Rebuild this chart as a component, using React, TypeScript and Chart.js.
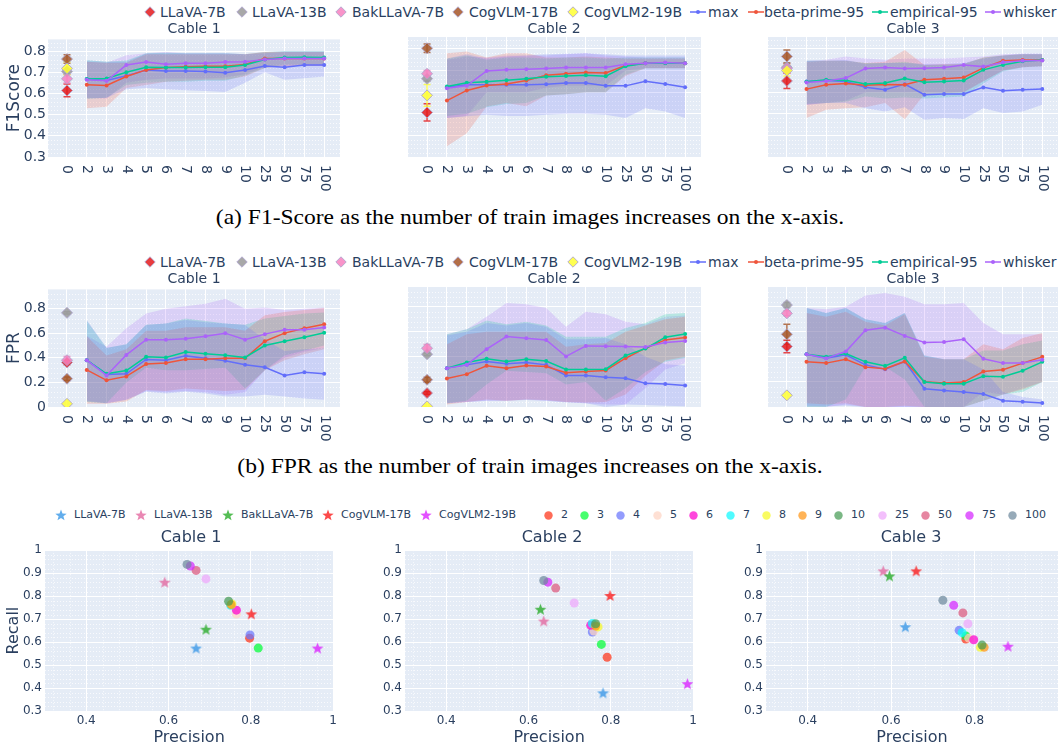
import React, { useEffect, useRef } from 'react';
import { Chart, registerables } from 'chart.js';

Chart.register(...registerables);

const FONT = "'DejaVu Sans', 'Noto Sans', sans-serif";
const SERIF = "'Liberation Serif', 'DejaVu Serif', serif";
const INK = '#2a3f5f';

// ---------- categories ----------
const X_LABELS = ['0', '2', '3', '4', '5', '6', '7', '8', '9', '10', '25', '50', '75', '100'];
const TRAIN_SIZES = ['2', '3', '4', '5', '6', '7', '8', '9', '10', '25', '50', '75', '100'];
const MODELS = ['LLaVA-7B', 'LLaVA-13B', 'BakLLaVA-7B', 'CogVLM-17B', 'CogVLM2-19B'];
const METHODS = ['max', 'beta-prime-95', 'empirical-95', 'whisker'];
const CABLES = ['Cable 1', 'Cable 2', 'Cable 3'];

const METHOD_COLORS = ['#636EFA', '#EF553B', '#00CC96', '#AB63FA'];
const MODEL_COLORS = ['#E41A1C', '#999999', '#F781BF', '#A65628', '#FFFF33'];
const STAR_COLORS = ['#2E91E5', '#E15F99', '#1CA71C', '#FB0D0D', '#DA16FF'];
const TRAIN_COLORS = ['#FD3216', '#00FE35', '#6A76FC', '#FED4C4', '#FE00CE', '#0DF9FF', '#F6F926', '#FF9616', '#479B55', '#EEA6FB', '#DC587D', '#D626FF', '#6E899C'];

const F1_TICKS = [0.3, 0.4, 0.5, 0.6, 0.7, 0.8];
const FPR_TICKS = [0, 0.2, 0.4, 0.6, 0.8];
const PR_X_TICKS = [0.4, 0.6, 0.8, 1];
const PR_Y_TICKS = [0.3, 0.4, 0.5, 0.6, 0.7, 0.8, 0.9, 1];

// ---------- (a) F1, Cable 1 ----------
const F1_C1_MAX = [0.668, 0.661, 0.683, 0.711, 0.706, 0.706, 0.703, 0.698, 0.711, 0.729, 0.723, 0.734, 0.734];
const F1_C1_MAX_LO = [0.575, 0.58, 0.62, 0.626, 0.62, 0.615, 0.612, 0.607, 0.65, 0.7, 0.665, 0.672, 0.68];
const F1_C1_MAX_HI = [0.757, 0.75, 0.75, 0.788, 0.79, 0.79, 0.79, 0.79, 0.785, 0.79, 0.795, 0.795, 0.795];
const F1_C1_BETA = [0.641, 0.638, 0.68, 0.711, 0.722, 0.726, 0.728, 0.728, 0.737, 0.765, 0.765, 0.765, 0.765];
const F1_C1_BETA_LO = [0.53, 0.537, 0.626, 0.64, 0.655, 0.66, 0.665, 0.665, 0.68, 0.72, 0.73, 0.73, 0.73];
const F1_C1_BETA_HI = [0.75, 0.745, 0.745, 0.785, 0.785, 0.785, 0.785, 0.785, 0.785, 0.795, 0.795, 0.795, 0.795];
const F1_C1_EMP = [0.668, 0.671, 0.7, 0.723, 0.722, 0.722, 0.723, 0.723, 0.734, 0.76, 0.769, 0.771, 0.769];
const F1_C1_EMP_LO = [0.575, 0.58, 0.64, 0.65, 0.655, 0.655, 0.66, 0.66, 0.685, 0.72, 0.735, 0.735, 0.735];
const F1_C1_EMP_HI = [0.757, 0.75, 0.755, 0.79, 0.792, 0.79, 0.79, 0.79, 0.785, 0.795, 0.8, 0.8, 0.8];
const F1_C1_WHISK = [0.665, 0.66, 0.734, 0.748, 0.738, 0.743, 0.743, 0.748, 0.749, 0.76, 0.765, 0.765, 0.765];
const F1_C1_WHISK_LO = [0.58, 0.575, 0.65, 0.665, 0.67, 0.67, 0.67, 0.675, 0.69, 0.725, 0.73, 0.73, 0.73];
const F1_C1_WHISK_HI = [0.75, 0.745, 0.78, 0.79, 0.795, 0.79, 0.79, 0.79, 0.785, 0.795, 0.8, 0.8, 0.8];
const F1_C1_MODEL = [0.614, 0.703, 0.669, 0.762, 0.718];
const F1_C1_MODEL_ERR = [0.03, 0.012, 0.02, 0.02, 0.03];

// ---------- (a) F1, Cable 2 ----------
const F1_C2_MAX = [0.623, 0.634, 0.634, 0.634, 0.634, 0.637, 0.642, 0.642, 0.629, 0.629, 0.65, 0.638, 0.623];
const F1_C2_MAX_LO = [0.48, 0.488, 0.495, 0.49, 0.49, 0.495, 0.5, 0.5, 0.495, 0.48, 0.526, 0.51, 0.48];
const F1_C2_MAX_HI = [0.755, 0.775, 0.755, 0.765, 0.77, 0.775, 0.778, 0.78, 0.775, 0.77, 0.77, 0.77, 0.77];
const F1_C2_BETA = [0.561, 0.608, 0.631, 0.638, 0.654, 0.678, 0.685, 0.691, 0.689, 0.723, 0.734, 0.735, 0.734];
const F1_C2_BETA_LO = [0.35, 0.41, 0.534, 0.55, 0.535, 0.585, 0.59, 0.6, 0.6, 0.675, 0.71, 0.71, 0.71];
const F1_C2_BETA_HI = [0.78, 0.788, 0.76, 0.78, 0.78, 0.76, 0.76, 0.765, 0.76, 0.755, 0.755, 0.755, 0.755];
const F1_C2_EMP = [0.626, 0.643, 0.648, 0.655, 0.662, 0.671, 0.675, 0.678, 0.674, 0.72, 0.734, 0.734, 0.734];
const F1_C2_EMP_LO = [0.49, 0.5, 0.53, 0.545, 0.55, 0.585, 0.59, 0.6, 0.6, 0.68, 0.71, 0.71, 0.71];
const F1_C2_EMP_HI = [0.755, 0.77, 0.75, 0.76, 0.76, 0.755, 0.76, 0.76, 0.755, 0.76, 0.76, 0.76, 0.76];
const F1_C2_WHISK = [0.618, 0.629, 0.698, 0.703, 0.706, 0.709, 0.714, 0.714, 0.714, 0.729, 0.734, 0.737, 0.734];
const F1_C2_WHISK_LO = [0.48, 0.49, 0.6, 0.6, 0.6, 0.62, 0.63, 0.63, 0.63, 0.7, 0.71, 0.71, 0.71];
const F1_C2_WHISK_HI = [0.75, 0.765, 0.76, 0.77, 0.77, 0.77, 0.775, 0.78, 0.77, 0.765, 0.76, 0.76, 0.76];
const F1_C2_MODEL = [0.506, 0.662, 0.685, 0.803, 0.585];
const F1_C2_MODEL_ERR = [0.04, 0.012, 0.015, 0.02, 0.05];

// ---------- (a) F1, Cable 3 ----------
const F1_C3_MAX = [0.649, 0.654, 0.649, 0.623, 0.611, 0.637, 0.588, 0.591, 0.591, 0.622, 0.606, 0.611, 0.615];
const F1_C3_MAX_LO = [0.542, 0.55, 0.55, 0.526, 0.511, 0.53, 0.472, 0.48, 0.476, 0.526, 0.503, 0.51, 0.542];
const F1_C3_MAX_HI = [0.745, 0.745, 0.749, 0.73, 0.735, 0.735, 0.73, 0.73, 0.735, 0.755, 0.77, 0.777, 0.777];
const F1_C3_BETA = [0.614, 0.634, 0.64, 0.632, 0.635, 0.634, 0.657, 0.662, 0.668, 0.712, 0.745, 0.749, 0.749];
const F1_C3_BETA_LO = [0.48, 0.518, 0.525, 0.53, 0.55, 0.475, 0.59, 0.595, 0.6, 0.65, 0.7, 0.715, 0.72];
const F1_C3_BETA_HI = [0.74, 0.745, 0.745, 0.735, 0.74, 0.795, 0.725, 0.73, 0.73, 0.76, 0.77, 0.775, 0.775];
const F1_C3_EMP = [0.648, 0.657, 0.655, 0.638, 0.642, 0.663, 0.646, 0.649, 0.654, 0.703, 0.726, 0.743, 0.749];
const F1_C3_EMP_LO = [0.545, 0.55, 0.555, 0.58, 0.57, 0.575, 0.57, 0.575, 0.58, 0.64, 0.695, 0.715, 0.72];
const F1_C3_EMP_HI = [0.745, 0.745, 0.745, 0.735, 0.735, 0.74, 0.725, 0.725, 0.73, 0.76, 0.77, 0.775, 0.775];
const F1_C3_WHISK = [0.645, 0.652, 0.665, 0.709, 0.714, 0.709, 0.711, 0.714, 0.726, 0.718, 0.738, 0.745, 0.746];
const F1_C3_WHISK_LO = [0.54, 0.55, 0.56, 0.6, 0.6, 0.6, 0.6, 0.6, 0.6, 0.65, 0.7, 0.715, 0.72];
const F1_C3_WHISK_HI = [0.745, 0.75, 0.765, 0.755, 0.75, 0.755, 0.755, 0.755, 0.76, 0.765, 0.775, 0.778, 0.778];
const F1_C3_MODEL = [0.652, 0.715, 0.71, 0.765, 0.7];
const F1_C3_MODEL_ERR = [0.035, 0.02, 0.02, 0.03, 0.025];

// ---------- (b) FPR, Cable 1 ----------
const FPR_C1_MAX = [0.381, 0.265, 0.27, 0.387, 0.381, 0.416, 0.397, 0.376, 0.344, 0.323, 0.257, 0.283, 0.27];
const FPR_C1_MAX_LO = [0.045, 0.03, 0.058, 0.125, 0.11, 0.125, 0.11, 0.085, 0.085, 0.1, 0.085, 0.07, 0.058];
const FPR_C1_MAX_HI = [0.707, 0.482, 0.509, 0.668, 0.68, 0.707, 0.69, 0.68, 0.668, 0.55, 0.456, 0.47, 0.48];
const FPR_C1_BETA = [0.302, 0.217, 0.249, 0.35, 0.358, 0.389, 0.389, 0.397, 0.397, 0.535, 0.601, 0.641, 0.673];
const FPR_C1_BETA_LO = [0.026, 0.026, 0.045, 0.138, 0.13, 0.151, 0.14, 0.13, 0.14, 0.3, 0.38, 0.43, 0.47];
const FPR_C1_BETA_HI = [0.575, 0.42, 0.47, 0.62, 0.62, 0.65, 0.65, 0.65, 0.62, 0.747, 0.773, 0.79, 0.805];
const FPR_C1_EMP = [0.381, 0.27, 0.297, 0.408, 0.403, 0.448, 0.434, 0.421, 0.403, 0.5, 0.535, 0.567, 0.604];
const FPR_C1_EMP_LO = [0.04, 0.03, 0.2, 0.32, 0.3, 0.3, 0.31, 0.32, 0.15, 0.3, 0.42, 0.46, 0.5];
const FPR_C1_EMP_HI = [0.7, 0.48, 0.51, 0.67, 0.68, 0.72, 0.7, 0.68, 0.67, 0.72, 0.74, 0.76, 0.77];
const FPR_C1_WHISK = [0.381, 0.257, 0.424, 0.548, 0.548, 0.556, 0.575, 0.601, 0.548, 0.593, 0.628, 0.628, 0.646];
const FPR_C1_WHISK_LO = [0.05, 0.03, 0.06, 0.13, 0.12, 0.13, 0.12, 0.1, 0.12, 0.3, 0.4, 0.45, 0.48];
const FPR_C1_WHISK_HI = [0.58, 0.49, 0.64, 0.76, 0.8, 0.82, 0.84, 0.88, 0.8, 0.81, 0.79, 0.8, 0.81];
const FPR_C1_MODEL = [0.363, 0.766, 0.381, 0.23, 0.026];
const FPR_C1_MODEL_ERR = [0.02, 0.01, 0.03, 0.015, 0];

// ---------- (b) FPR, Cable 2 ----------
const FPR_C2_MAX = [0.31, 0.336, 0.363, 0.344, 0.355, 0.336, 0.252, 0.252, 0.238, 0.23, 0.19, 0.183, 0.172];
const FPR_C2_MAX_LO = [0.03, 0.04, 0.05, 0.05, 0.055, 0.05, 0.035, 0.03, 0.0, 0.02, 0.015, 0.01, 0.005];
const FPR_C2_MAX_HI = [0.57, 0.6, 0.67, 0.65, 0.67, 0.64, 0.54, 0.54, 0.55, 0.5, 0.4, 0.34, 0.33];
const FPR_C2_BETA = [0.228, 0.262, 0.328, 0.31, 0.331, 0.323, 0.273, 0.283, 0.291, 0.389, 0.469, 0.535, 0.554];
const FPR_C2_BETA_LO = [0.02, 0.04, 0.06, 0.05, 0.06, 0.055, 0.04, 0.035, 0.04, 0.1, 0.25, 0.37, 0.4];
const FPR_C2_BETA_HI = [0.5, 0.58, 0.6, 0.6, 0.6, 0.6, 0.48, 0.5, 0.51, 0.6, 0.65, 0.7, 0.72];
const FPR_C2_EMP = [0.31, 0.355, 0.384, 0.363, 0.381, 0.366, 0.299, 0.299, 0.302, 0.41, 0.466, 0.556, 0.583];
const FPR_C2_EMP_LO = [0.03, 0.05, 0.18, 0.29, 0.28, 0.27, 0.18, 0.2, 0.05, 0.15, 0.28, 0.36, 0.39];
const FPR_C2_EMP_HI = [0.58, 0.62, 0.69, 0.66, 0.68, 0.65, 0.56, 0.56, 0.56, 0.63, 0.67, 0.74, 0.75];
const FPR_C2_WHISK = [0.31, 0.336, 0.461, 0.562, 0.548, 0.535, 0.403, 0.487, 0.485, 0.482, 0.479, 0.514, 0.527];
const FPR_C2_WHISK_LO = [0.03, 0.04, 0.05, 0.05, 0.06, 0.05, 0.04, 0.03, 0.02, 0.02, 0.15, 0.3, 0.35];
const FPR_C2_WHISK_HI = [0.58, 0.62, 0.72, 0.83, 0.82, 0.79, 0.64, 0.76, 0.74, 0.68, 0.66, 0.72, 0.73];
const FPR_C2_MODEL = [0.111, 0.421, 0.469, 0.217, 0.005];
const FPR_C2_MODEL_ERR = [0.01, 0.01, 0.03, 0.02, 0];

// ---------- (b) FPR, Cable 3 ----------
const FPR_C3_MAX = [0.421, 0.389, 0.416, 0.336, 0.302, 0.363, 0.146, 0.132, 0.119, 0.103, 0.05, 0.042, 0.032];
const FPR_C3_MAX_LO = [0.01, 0.005, 0.01, 0, 0, 0, 0, 0, 0, 0, 0, 0, 0];
const FPR_C3_MAX_HI = [0.79, 0.75, 0.79, 0.7, 0.67, 0.75, 0.41, 0.38, 0.38, 0.3, 0.12, 0.08, 0.06];
const FPR_C3_BETA = [0.36, 0.35, 0.381, 0.318, 0.305, 0.363, 0.201, 0.191, 0.199, 0.283, 0.297, 0.35, 0.4];
const FPR_C3_BETA_LO = [0.03, 0.02, 0.03, 0, 0, 0.01, 0, 0, 0, 0.05, 0.1, 0.14, 0.2];
const FPR_C3_BETA_HI = [0.75, 0.72, 0.76, 0.68, 0.65, 0.74, 0.4, 0.38, 0.38, 0.5, 0.46, 0.55, 0.59];
const FPR_C3_EMP = [0.421, 0.4, 0.426, 0.36, 0.328, 0.392, 0.199, 0.185, 0.185, 0.246, 0.241, 0.289, 0.36];
const FPR_C3_EMP_LO = [0, 0, 0.06, 0.32, 0.32, 0.22, 0, 0, 0, 0.05, 0.1, 0.12, 0.2];
const FPR_C3_EMP_HI = [0.79, 0.75, 0.79, 0.7, 0.67, 0.75, 0.41, 0.38, 0.38, 0.45, 0.45, 0.5, 0.53];
const FPR_C3_WHISK = [0.421, 0.389, 0.442, 0.612, 0.633, 0.567, 0.514, 0.519, 0.54, 0.384, 0.35, 0.35, 0.376];
const FPR_C3_WHISK_LO = [0, 0, 0.02, 0, 0, 0, 0, 0, 0, 0.12, 0.1, 0.15, 0.2];
const FPR_C3_WHISK_HI = [0.79, 0.78, 0.8, 0.89, 0.91, 0.88, 0.82, 0.82, 0.83, 0.67, 0.58, 0.58, 0.58];
const FPR_C3_MODEL = [0.482, 0.813, 0.747, 0.58, 0.093];
const FPR_C3_MODEL_ERR = [0.05, 0.02, 0.02, 0.08, 0];

// ---------- (c) Precision / Recall ----------
const PR_C1_MODEL_P = [0.667, 0.591, 0.691, 0.801, 0.962];
const PR_C1_MODEL_R = [0.574, 0.861, 0.656, 0.723, 0.574];
const PR_C1_TRAIN_P = [0.797, 0.818, 0.798, 0.765, 0.765, 0.751, 0.754, 0.752, 0.746, 0.691, 0.667, 0.653, 0.645];
const PR_C1_TRAIN_R = [0.617, 0.574, 0.631, 0.722, 0.739, 0.76, 0.766, 0.763, 0.778, 0.875, 0.912, 0.931, 0.938];

const PR_C2_MODEL_P = [0.781, 0.637, 0.629, 0.798, 0.986];
const PR_C2_MODEL_R = [0.379, 0.692, 0.743, 0.803, 0.419];
const PR_C2_TRAIN_P = [0.791, 0.777, 0.755, 0.759, 0.751, 0.755, 0.769, 0.763, 0.763, 0.711, 0.666, 0.647, 0.637];
const PR_C2_TRAIN_R = [0.534, 0.59, 0.644, 0.648, 0.673, 0.681, 0.666, 0.67, 0.68, 0.77, 0.835, 0.861, 0.868];

const PR_C3_MODEL_P = [0.634, 0.581, 0.596, 0.66, 0.88];
const PR_C3_MODEL_R = [0.667, 0.91, 0.888, 0.91, 0.582];
const PR_C3_TRAIN_P = [0.779, 0.779, 0.763, 0.786, 0.798, 0.77, 0.814, 0.823, 0.818, 0.784, 0.772, 0.75, 0.724];
const PR_C3_TRAIN_R = [0.613, 0.627, 0.651, 0.617, 0.61, 0.641, 0.577, 0.577, 0.587, 0.68, 0.727, 0.76, 0.782];

// ---------- helpers ----------
const hexA = (hex: string, a: number) => {
  const n = parseInt(hex.slice(1), 16);
  return `rgba(${(n >> 16) & 255},${(n >> 8) & 255},${n & 255},${a})`;
};
const fmt = (v: any) => String(+Number(v).toFixed(2));
const range = (a: number, b: number, s: number) => {
  const out: number[] = [];
  for (let v = a; v <= b + 1e-9; v += s) out.push(+v.toFixed(3));
  return out;
};

const bgPlugin = {
  id: 'plotBg',
  beforeDraw(chart: any) {
    const { ctx, chartArea: a } = chart;
    ctx.save();
    ctx.fillStyle = '#E5ECF6';
    ctx.fillRect(a.left, a.top, a.right - a.left, a.bottom - a.top);
    ctx.restore();
  },
};

const minorGridPlugin = (xs: number[], ys: number[]) => ({
  id: 'minorGrid',
  beforeDatasetsDraw(chart: any) {
    const { ctx, chartArea: a, scales } = chart;
    ctx.save();
    ctx.strokeStyle = 'rgba(255,255,255,0.75)';
    ctx.lineWidth = 1;
    ctx.setLineDash([1, 2]);
    ys.forEach((v) => {
      const y = Math.round(scales.y.getPixelForValue(v)) + 0.5;
      ctx.beginPath(); ctx.moveTo(a.left, y); ctx.lineTo(a.right, y); ctx.stroke();
    });
    xs.forEach((v) => {
      const x = Math.round(scales.x.getPixelForValue(v)) + 0.5;
      ctx.beginPath(); ctx.moveTo(x, a.top); ctx.lineTo(x, a.bottom); ctx.stroke();
    });
    ctx.restore();
  },
});

const errorBarPlugin = {
  id: 'errBars',
  beforeDatasetsDraw(chart: any) {
    const { ctx, scales } = chart;
    chart.data.datasets.forEach((ds: any) => {
      if (!ds.errY) return;
      const p = ds.data[0];
      const x = scales.x.getPixelForValue(p.x);
      const y1 = scales.y.getPixelForValue(p.y - ds.errY);
      const y2 = scales.y.getPixelForValue(p.y + ds.errY);
      ctx.save();
      ctx.strokeStyle = ds.errColor;
      ctx.lineWidth = 1.5;
      ctx.beginPath();
      ctx.moveTo(x, y1); ctx.lineTo(x, y2);
      ctx.moveTo(x - 3.5, y1); ctx.lineTo(x + 3.5, y1);
      ctx.moveTo(x - 3.5, y2); ctx.lineTo(x + 3.5, y2);
      ctx.stroke();
      ctx.restore();
    });
  },
};

const rotLabelsPlugin = (labels: string[]) => ({
  id: 'rotLabels',
  afterDraw(chart: any) {
    const { ctx, chartArea: a, scales } = chart;
    ctx.save();
    ctx.fillStyle = INK;
    ctx.font = `14px ${FONT}`;
    ctx.textAlign = 'left';
    ctx.textBaseline = 'middle';
    labels.forEach((lab, i) => {
      const x = scales.x.getPixelForValue(i);
      ctx.save();
      ctx.translate(x, a.bottom + 8);
      ctx.rotate(Math.PI / 2);
      ctx.fillText(lab, 0, 0);
      ctx.restore();
    });
    ctx.restore();
  },
});

function starImage(color: string, size = 13) {
  const c = document.createElement('canvas');
  c.width = size; c.height = size;
  const g = c.getContext('2d')!;
  const R = size / 2 - 0.3, r = R * 0.42, cx = size / 2, cy = size / 2 + 0.6;
  g.beginPath();
  for (let i = 0; i < 10; i++) {
    const ang = -Math.PI / 2 + (i * Math.PI) / 5;
    const rr = i % 2 === 0 ? R : r;
    g.lineTo(cx + rr * Math.cos(ang), cy + rr * Math.sin(ang));
  }
  g.closePath();
  g.fillStyle = color;
  g.fill();
  return c;
}

type LinePanel = {
  means: number[][]; los: number[][]; his: number[][]; model: number[]; err: number[];
};

const F1_PANELS: LinePanel[] = [
  { means: [F1_C1_MAX, F1_C1_BETA, F1_C1_EMP, F1_C1_WHISK], los: [F1_C1_MAX_LO, F1_C1_BETA_LO, F1_C1_EMP_LO, F1_C1_WHISK_LO], his: [F1_C1_MAX_HI, F1_C1_BETA_HI, F1_C1_EMP_HI, F1_C1_WHISK_HI], model: F1_C1_MODEL, err: F1_C1_MODEL_ERR },
  { means: [F1_C2_MAX, F1_C2_BETA, F1_C2_EMP, F1_C2_WHISK], los: [F1_C2_MAX_LO, F1_C2_BETA_LO, F1_C2_EMP_LO, F1_C2_WHISK_LO], his: [F1_C2_MAX_HI, F1_C2_BETA_HI, F1_C2_EMP_HI, F1_C2_WHISK_HI], model: F1_C2_MODEL, err: F1_C2_MODEL_ERR },
  { means: [F1_C3_MAX, F1_C3_BETA, F1_C3_EMP, F1_C3_WHISK], los: [F1_C3_MAX_LO, F1_C3_BETA_LO, F1_C3_EMP_LO, F1_C3_WHISK_LO], his: [F1_C3_MAX_HI, F1_C3_BETA_HI, F1_C3_EMP_HI, F1_C3_WHISK_HI], model: F1_C3_MODEL, err: F1_C3_MODEL_ERR },
];
const FPR_PANELS: LinePanel[] = [
  { means: [FPR_C1_MAX, FPR_C1_BETA, FPR_C1_EMP, FPR_C1_WHISK], los: [FPR_C1_MAX_LO, FPR_C1_BETA_LO, FPR_C1_EMP_LO, FPR_C1_WHISK_LO], his: [FPR_C1_MAX_HI, FPR_C1_BETA_HI, FPR_C1_EMP_HI, FPR_C1_WHISK_HI], model: FPR_C1_MODEL, err: FPR_C1_MODEL_ERR },
  { means: [FPR_C2_MAX, FPR_C2_BETA, FPR_C2_EMP, FPR_C2_WHISK], los: [FPR_C2_MAX_LO, FPR_C2_BETA_LO, FPR_C2_EMP_LO, FPR_C2_WHISK_LO], his: [FPR_C2_MAX_HI, FPR_C2_BETA_HI, FPR_C2_EMP_HI, FPR_C2_WHISK_HI], model: FPR_C2_MODEL, err: FPR_C2_MODEL_ERR },
  { means: [FPR_C3_MAX, FPR_C3_BETA, FPR_C3_EMP, FPR_C3_WHISK], los: [FPR_C3_MAX_LO, FPR_C3_BETA_LO, FPR_C3_EMP_LO, FPR_C3_WHISK_LO], his: [FPR_C3_MAX_HI, FPR_C3_BETA_HI, FPR_C3_EMP_HI, FPR_C3_WHISK_HI], model: FPR_C3_MODEL, err: FPR_C3_MODEL_ERR },
];
const PR_PANELS = [
  { mp: PR_C1_MODEL_P, mr: PR_C1_MODEL_R, tp: PR_C1_TRAIN_P, tr: PR_C1_TRAIN_R },
  { mp: PR_C2_MODEL_P, mr: PR_C2_MODEL_R, tp: PR_C2_TRAIN_P, tr: PR_C2_TRAIN_R },
  { mp: PR_C3_MODEL_P, mr: PR_C3_MODEL_R, tp: PR_C3_TRAIN_P, tr: PR_C3_TRAIN_R },
];

// ---------- layout ----------
const COLS_AB = [{ l: 48, r: 340 }, { l: 408, r: 701 }, { l: 768, r: 1058 }];
const COLS_C = [{ l: 45, r: 338 }, { l: 405, r: 698 }, { l: 766, r: 1058 }];
const ROW_A = { t: 37, b: 157 };
const ROW_B = { t: 287, b: 407 };
const ROW_C = { t: 548, b: 711 };

type Box = { left: number; top: number; width: number; height: number; leftW: number; topPad: number; rightPad: number; bottomH: number };

function lineBox(col: number, row: { t: number; b: number }): Box {
  const c = COLS_AB[col];
  const leftW = col === 0 ? 48 : 10, topPad = 8, rightPad = 2, bottomH = 40;
  return { left: c.l - leftW, top: row.t - topPad, width: leftW + (c.r - c.l) + rightPad, height: topPad + (row.b - row.t) + bottomH, leftW, topPad, rightPad, bottomH };
}
function scatterBox(col: number): Box {
  const c = COLS_C[col];
  const leftW = col === 0 ? 45 : 32, topPad = 8, rightPad = 2, bottomH = 36;
  return { left: c.l - leftW, top: ROW_C.t - topPad, width: leftW + (c.r - c.l) + rightPad, height: topPad + (ROW_C.b - ROW_C.t) + bottomH, leftW, topPad, rightPad, bottomH };
}

function lineConfig(p: LinePanel, box: Box, kind: 'f1' | 'fpr', showY: boolean) {
  const datasets: any[] = [];
  MODELS.forEach((m, i) => {
    datasets.push({
      type: 'line', label: m, data: [{ x: 0, y: p.model[i] }], showLine: false,
      pointStyle: 'rectRot', pointRadius: 5.5, pointHoverRadius: 5.5,
      backgroundColor: hexA(MODEL_COLORS[i], 0.85), borderColor: 'rgba(175,165,205,0.9)', pointBorderWidth: 1,
      errY: p.err[i], errColor: hexA(MODEL_COLORS[i], 0.8), order: 5 - i,
    });
  });
  METHODS.forEach((m, k) => {
    const c = METHOD_COLORS[k];
    datasets.push({
      type: 'line', label: m, data: TRAIN_SIZES.map((_, j) => ({ x: j + 1, y: p.means[k][j] })),
      borderColor: c, backgroundColor: c, borderWidth: 1.5, pointRadius: 2, pointHoverRadius: 2,
      pointBorderWidth: 0, fill: false, tension: 0, order: 10 + (3 - k),
    });
  });
  METHODS.forEach((m, k) => {
    const c = METHOD_COLORS[k];
    datasets.push({ type: 'line', label: m + ' lo', data: TRAIN_SIZES.map((_, j) => ({ x: j + 1, y: p.los[k][j] })), borderWidth: 0, borderColor: 'rgba(0,0,0,0)', pointRadius: 0, fill: false, order: 40 });
    datasets.push({ type: 'line', label: m + ' hi', data: TRAIN_SIZES.map((_, j) => ({ x: j + 1, y: p.his[k][j] })), borderWidth: 0, borderColor: 'rgba(0,0,0,0)', pointRadius: 0, fill: '-1', backgroundColor: hexA(c, 0.2), order: 40 });
  });
  const yTicks = kind === 'f1' ? F1_TICKS : FPR_TICKS;
  const yMin = kind === 'f1' ? 0.3 : 0;
  const yMax = kind === 'f1' ? 0.855 : 0.957;
  const yMinor = kind === 'f1' ? range(0.32, 0.85, 0.02).filter((v) => Math.abs(v * 10 - Math.round(v * 10)) > 1e-6) : range(0.04, 0.95, 0.04).filter((v) => Math.abs(v * 5 - Math.round(v * 5)) > 1e-6);
  return {
    type: 'line',
    data: { datasets },
    options: {
      responsive: false, animation: false, events: [],
      layout: { autoPadding: false, padding: { top: box.topPad, right: box.rightPad, left: 0, bottom: 0 } },
      plugins: { legend: { display: false }, tooltip: { enabled: false }, title: { display: false } },
      scales: {
        x: {
          type: 'linear', min: -0.96, max: 13.8,
          afterBuildTicks: (s: any) => { s.ticks = X_LABELS.map((_, i) => ({ value: i })); },
          ticks: { display: false },
          grid: { color: '#ffffff', lineWidth: 1, drawTicks: false },
          border: { display: false },
          afterFit: (s: any) => { s.height = box.bottomH; },
        },
        y: {
          type: 'linear', min: yMin, max: yMax,
          afterBuildTicks: (s: any) => { s.ticks = yTicks.map((v) => ({ value: v })); },
          ticks: { display: showY, color: INK, font: { size: 14, family: FONT }, padding: 2, callback: fmt },
          grid: { color: '#ffffff', lineWidth: 1, drawTicks: false },
          border: { display: false },
          title: { display: showY, text: kind === 'f1' ? 'F1Score' : 'FPR', color: INK, font: { size: 17, family: FONT }, padding: { top: 4, bottom: 0 } },
          afterFit: (s: any) => { s.width = box.leftW; },
        },
      },
    },
    plugins: [bgPlugin, minorGridPlugin([], yMinor), errorBarPlugin, rotLabelsPlugin(X_LABELS)],
  };
}

function scatterConfig(col: number, box: Box) {
  const p = PR_PANELS[col];
  const datasets: any[] = [];
  MODELS.forEach((m, i) => {
    datasets.push({
      label: m, data: [{ x: p.mp[i], y: p.mr[i] }],
      pointStyle: starImage(hexA(STAR_COLORS[i], 0.75)), pointRadius: 6, pointHoverRadius: 6, order: 30 - i,
    });
  });
  TRAIN_SIZES.forEach((t, j) => {
    datasets.push({
      label: t, data: [{ x: p.tp[j], y: p.tr[j] }], pointStyle: 'circle', pointRadius: 4.5, pointHoverRadius: 4.5,
      backgroundColor: hexA(TRAIN_COLORS[j], 0.72), borderWidth: 0, pointBorderWidth: 0, order: 25 - j,
    });
  });
  const xTicks = col === 2 ? PR_X_TICKS.slice(0, 3) : PR_X_TICKS;
  const xMinor = range(0.32, 0.99, 0.04).filter((v) => Math.abs(v * 5 - Math.round(v * 5)) > 1e-6);
  const yMinor = range(0.32, 0.99, 0.02).filter((v) => Math.abs(v * 10 - Math.round(v * 10)) > 1e-6);
  return {
    type: 'scatter',
    data: { datasets },
    options: {
      responsive: false, animation: false, events: [],
      layout: { autoPadding: false, padding: { top: box.topPad, right: box.rightPad, left: 0, bottom: 0 } },
      plugins: { legend: { display: false }, tooltip: { enabled: false }, title: { display: false } },
      scales: {
        x: {
          type: 'linear', min: 0.3, max: 1,
          afterBuildTicks: (s: any) => { s.ticks = xTicks.map((v) => ({ value: v })); },
          ticks: { color: INK, font: { size: 12, family: FONT }, padding: 3, callback: fmt, maxRotation: 0 },
          grid: { color: '#ffffff', lineWidth: 1, drawTicks: false },
          border: { display: false },
          title: { display: true, text: 'Precision', color: INK, font: { size: 16, family: FONT }, padding: { top: 0, bottom: 0 } },
          afterFit: (s: any) => { s.height = box.bottomH; },
        },
        y: {
          type: 'linear', min: 0.3, max: 1,
          afterBuildTicks: (s: any) => { s.ticks = PR_Y_TICKS.map((v) => ({ value: v })); },
          ticks: { color: INK, font: { size: 12, family: FONT }, padding: 3, callback: fmt },
          grid: { color: '#ffffff', lineWidth: 1, drawTicks: false },
          border: { display: false },
          title: { display: col === 0, text: 'Recall', color: INK, font: { size: 16, family: FONT }, padding: { top: 4, bottom: 0 } },
          afterFit: (s: any) => { s.width = box.leftW; },
        },
      },
    },
    plugins: [bgPlugin, minorGridPlugin(xMinor, yMinor)],
  };
}

function ChartCanvas({ box, make }: { box: Box; make: () => any }) {
  const ref = useRef<HTMLCanvasElement>(null);
  useEffect(() => {
    const chart = new Chart(ref.current as HTMLCanvasElement, make());
    return () => chart.destroy();
  }, []);
  return (
    <div style={{ position: 'absolute', left: box.left, top: box.top, width: box.width, height: box.height }}>
      <canvas ref={ref} width={box.width} height={box.height} style={{ display: 'block', width: box.width, height: box.height }} />
    </div>
  );
}

function Txt({ x, y, size, children, anchor = 'middle', family = FONT, color = INK, sx }: any) {
  const tx = anchor === 'middle' ? '-50%' : anchor === 'end' ? '-100%' : '0';
  return (
    <div style={{ position: 'absolute', left: x, top: y, transform: `translate(${tx}, -50%)${sx ? ` scaleX(${sx})` : ''}`, fontFamily: family, fontSize: size, color, whiteSpace: 'nowrap', lineHeight: 1.2, zIndex: 5 }}>
      {children}
    </div>
  );
}

function Sym({ x, y, w, h, children }: any) {
  return (
    <svg width={w} height={h} style={{ position: 'absolute', left: x - w / 2, top: y - h / 2, zIndex: 5, overflow: 'visible' }}>
      {children}
    </svg>
  );
}

const LEG_AB_DIAMOND_X = [150, 242, 341, 458, 573];
const LEG_AB_DIAMOND_TX = [160, 252, 352, 469, 584];
const LEG_AB_LINE_X = [698, 756, 880, 993];
const LEG_AB_LINE_TX = [708, 764, 890, 1003];
const LEG_C_STAR_X = [61, 141, 228, 328, 426];
const LEG_C_CIRC_X = [548, 584, 620, 657, 693, 730, 766, 802, 838, 882, 925, 969, 1012];

function LegendAB({ y }: { y: number }) {
  return (
    <>
      {MODELS.map((m, i) => (
        <React.Fragment key={m}>
          <Sym x={LEG_AB_DIAMOND_X[i]} y={y} w={12} h={12}>
            <polygon points="6,0.8 11.2,6 6,11.2 0.8,6" fill={hexA(MODEL_COLORS[i], 0.85)} stroke="rgba(175,165,205,0.9)" strokeWidth={1} />
          </Sym>
          <Txt x={LEG_AB_DIAMOND_TX[i]} y={y} size={14} anchor="start">{m}</Txt>
        </React.Fragment>
      ))}
      {METHODS.map((m, k) => (
        <React.Fragment key={m}>
          <Sym x={LEG_AB_LINE_X[k]} y={y} w={16} h={8}>
            <line x1={0} y1={4} x2={16} y2={4} stroke={METHOD_COLORS[k]} strokeWidth={1.5} />
            <circle cx={8} cy={4} r={2} fill={METHOD_COLORS[k]} />
          </Sym>
          <Txt x={LEG_AB_LINE_TX[k]} y={y} size={14} anchor="start">{m}</Txt>
        </React.Fragment>
      ))}
    </>
  );
}

function starPoints(cx: number, cy: number, R: number) {
  const pts: string[] = [];
  for (let i = 0; i < 10; i++) {
    const ang = -Math.PI / 2 + (i * Math.PI) / 5;
    const rr = i % 2 === 0 ? R : R * 0.42;
    pts.push(`${(cx + rr * Math.cos(ang)).toFixed(2)},${(cy + rr * Math.sin(ang)).toFixed(2)}`);
  }
  return pts.join(' ');
}

function LegendC({ y }: { y: number }) {
  return (
    <>
      {MODELS.map((m, i) => (
        <React.Fragment key={m}>
          <Sym x={LEG_C_STAR_X[i]} y={y} w={12} h={12}>
            <polygon points={starPoints(6, 6.5, 6)} fill={hexA(STAR_COLORS[i], 0.75)} />
          </Sym>
          <Txt x={LEG_C_STAR_X[i] + 13} y={y} size={11} anchor="start">{m}</Txt>
        </React.Fragment>
      ))}
      {TRAIN_SIZES.map((t, j) => (
        <React.Fragment key={t}>
          <Sym x={LEG_C_CIRC_X[j]} y={y} w={9} h={9}>
            <circle cx={4.5} cy={4.5} r={4.2} fill={hexA(TRAIN_COLORS[j], 0.72)} />
          </Sym>
          <Txt x={LEG_C_CIRC_X[j] + 13} y={y} size={11} anchor="start">{t}</Txt>
        </React.Fragment>
      ))}
    </>
  );
}

const TITLE_AB_X = [194, 554, 913];
const TITLE_C_X = [191, 552, 911];

export default function App() {
  return (
    <div style={{ position: 'fixed', left: 0, top: 0, width: 1060, height: 747, background: '#ffffff', overflow: 'hidden' }}>
      {/* (a) */}
      <LegendAB y={12} />
      {CABLES.map((c, i) => (<Txt key={'ta' + i} x={TITLE_AB_X[i]} y={28} size={14}>{c}</Txt>))}
      {F1_PANELS.map((p, i) => {
        const box = lineBox(i, ROW_A);
        return <ChartCanvas key={'a' + i} box={box} make={() => lineConfig(p, box, 'f1', i === 0)} />;
      })}
      <Txt x={530} y={218} size={21} family={SERIF} color="#000" sx={1.12}>(a) F1-Score as the number of train images increases on the x-axis.</Txt>

      {/* (b) */}
      <LegendAB y={262} />
      {CABLES.map((c, i) => (<Txt key={'tb' + i} x={TITLE_AB_X[i]} y={278} size={14}>{c}</Txt>))}
      {FPR_PANELS.map((p, i) => {
        const box = lineBox(i, ROW_B);
        return <ChartCanvas key={'b' + i} box={box} make={() => lineConfig(p, box, 'fpr', i === 0)} />;
      })}
      <Txt x={530} y={467} size={21} family={SERIF} color="#000" sx={1.12}>(b) FPR as the number of train images increases on the x-axis.</Txt>

      {/* (c) */}
      <LegendC y={515} />
      {CABLES.map((c, i) => (<Txt key={'tc' + i} x={TITLE_C_X[i]} y={537} size={16}>{c}</Txt>))}
      {PR_PANELS.map((_, i) => {
        const box = scatterBox(i);
        return <ChartCanvas key={'c' + i} box={box} make={() => scatterConfig(i, box)} />;
      })}
    </div>
  );
}
